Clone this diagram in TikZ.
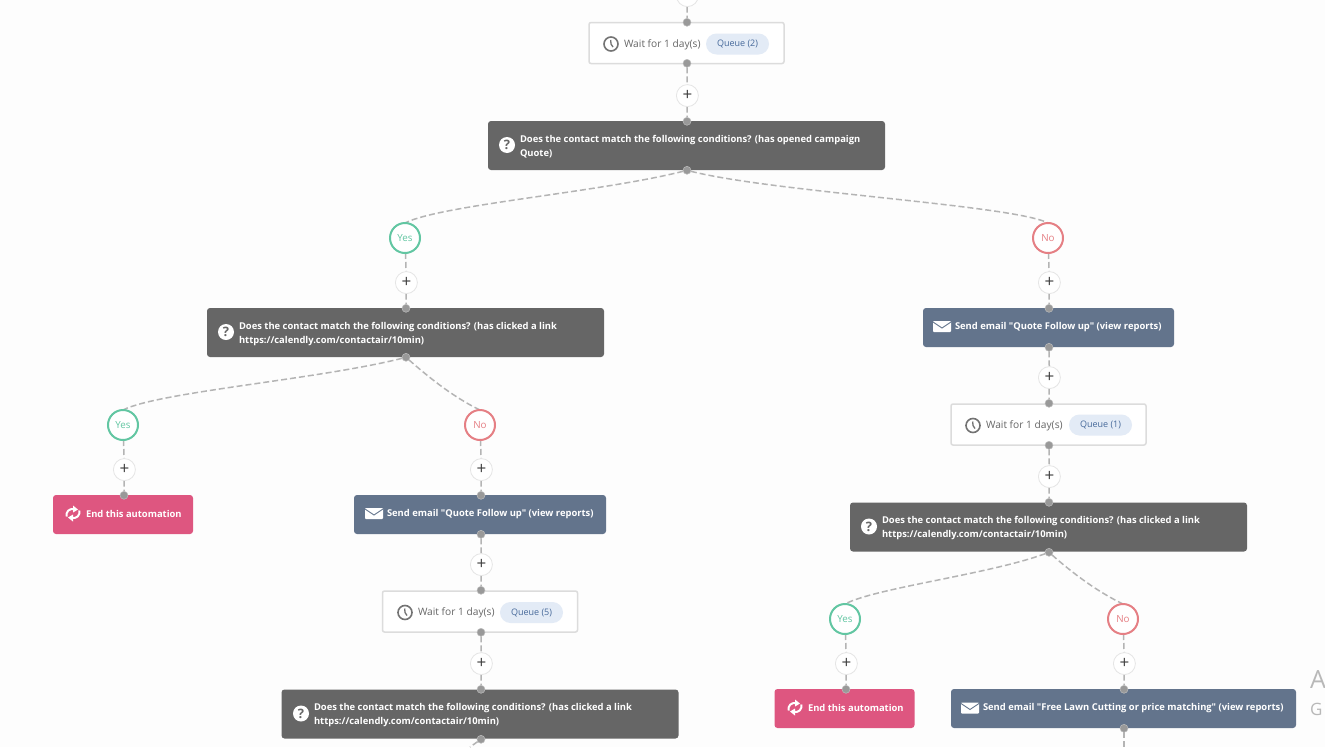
\documentclass[tikz,border=0pt]{standalone}
\usepackage{fontspec}
\newfontfamily\plainsans{Open Sans}
\AtBeginDocument{\plainsans}
\usetikzlibrary{backgrounds}
\definecolor{pagebg}{HTML}{FDFDFD}
\definecolor{darkbox}{HTML}{666666}
\definecolor{bluebox}{HTML}{63748C}
\definecolor{pinkbox}{HTML}{DE5680}
\definecolor{waitline}{HTML}{DCDCDC}
\definecolor{pill}{HTML}{E3EBF6}
\definecolor{pilltext}{HTML}{46699A}
\definecolor{greentone}{HTML}{62C6A2}
\definecolor{redtone}{HTML}{E57F84}
\definecolor{dashgrey}{HTML}{B4B4B4}
\definecolor{dotgrey}{HTML}{999999}
\newcommand{\nudge}[1]{\raisebox{-.8pt}{#1}}
\tikzset{
  x=1pt,y=-1pt,
  every node/.style={inner sep=0pt,outer sep=0pt},
  link/.style={draw=dashgrey,line width=1.5pt,dash pattern=on 6pt off 3pt},
  dot/.style={circle,fill=dotgrey,draw=dotgrey!65,line width=.5pt,minimum size=8pt,yshift=-.3pt},
  plusnode/.style={circle,fill=white,draw=black!10,line width=.8pt,minimum size=22pt,font=\fontsize{17}{17}\selectfont,text=black!75,xshift=.4pt,yshift=-.6pt},
  darknode/.style={fill=darkbox,rounded corners=3pt,minimum width=397pt,minimum height=49pt},
  bluenode/.style={fill=bluebox,rounded corners=3pt,minimum height=39pt},
  pinknode/.style={fill=pinkbox,rounded corners=3pt,minimum width=140pt,minimum height=39pt},
  waitnode/.style={fill=white,draw=waitline,line width=1.5pt,rounded corners=2pt,minimum width=195pt,minimum height=41pt},
  pillnode/.style={fill=pill,rounded corners=10.5pt,minimum width=63pt,minimum height=21pt,font=\fontsize{9}{9}\selectfont,text=pilltext},
  waittext/.style={anchor=west,font=\fontsize{10.2}{10.2}\selectfont,text=black!60,yshift=-.5pt},
  boxtext/.style={anchor=west,align=left,text=white,font=\fontsize{9.4}{14}\selectfont\bfseries,yshift=-.6pt},
  yesnode/.style={circle,fill=white,draw=greentone,line width=2pt,minimum size=30pt,text=greentone,font=\fontsize{9.8}{9.8}\selectfont},
  nonode/.style={circle,fill=white,draw=redtone,line width=2pt,minimum size=30pt,text=redtone,font=\fontsize{9.8}{9.8}\selectfont},
  clockico/.pic={
    \draw[black!55,line width=1.6pt] (0,0) circle (7);
    \draw[black!55,line width=1.3pt] (-.3,-4) -- (0,0) -- (2,3);
  },
  mailico/.pic={
    \fill[white,rounded corners=.8pt] (-9,-5.5) rectangle (9,5.5);
    \draw[bluebox,line width=.9pt] (-9,-4.5) -- (0,1.5) -- (9,-4.5);
  },
  syncico/.pic={
    \draw[white,line width=2pt] (-6.5,3) .. controls (-7,-2) and (-4,-5) .. (1,-4.5);
    \draw[white,line width=2pt] (6.5,-3) .. controls (7,2) and (4,5) .. (-1,4.5);
    \fill[white] (0,-8) -- (5,-4) -- (0,-1) -- cycle;
    \fill[white] (0,8) -- (-5,4) -- (0,1) -- cycle;
  },
}
\newcommand{\qmark}[2]{\node[circle,fill=white,minimum size=16pt,text=darkbox,font=\fontsize{13}{13}\selectfont\bfseries] at (#1,#2) {?};}
\begin{document}
\begin{tikzpicture}
\useasboundingbox (0,0) rectangle (1325,747);

% top branch
\node[plusnode] (p0) at (687,-5) {};
\node[waitnode] (w1) at (686.5,43) {};
\node[dot] (d1) at (687,22) {};
\node[dot] (d2) at (687,63) {};
\pic at (611,44) {clockico};
\node[waittext] (t1) at (624,44) {Wait for 1 day(s)};
\node[pillnode] (q1) at (737.5,44) {\nudge{Queue (2)}};
\node[plusnode] (p1) at (687,95) {+};
\node[darknode] (c1) at (686.5,145.5) {};
\node[dot] (d3) at (687,121) {};
\node[dot] (d4) at (687,170) {};
\qmark{507}{145}
\node[boxtext] (t2) at (520,146) {Does the contact match the following conditions? (has opened campaign\\Quote)};

% left branch
\node[yesnode] (y1) at (405,238) {\nudge{Yes}};
\node[plusnode] (p2) at (406,282) {+};
\node[darknode] (c2) at (405.5,332.5) {};
\node[dot] (d5) at (406,308) {};
\node[dot] (d6) at (406,357) {};
\qmark{226}{332}
\node[boxtext] (t3) at (239,333) {Does the contact match the following conditions? (has clicked a link\\https://calendly.com/contactair/10min)};

\node[yesnode] (y2) at (123,425) {\nudge{Yes}};
\node[plusnode] (p3) at (124,469) {+};
\node[pinknode] (e1) at (123,514.5) {};
\node[dot] (d7) at (124,495) {};
\pic at (73,513.5) {syncico};
\node[boxtext] (t4) at (86,513.2) {End this automation};

\node[nonode] (n2) at (480,425) {\nudge{No}};
\node[plusnode] (p4) at (481,469) {+};
\node[bluenode,minimum width=252pt] (b1) at (480,514.5) {};
\node[dot] (d8) at (481,495) {};
\node[dot] (d9) at (481,534) {};
\pic at (374,513.5) {mailico};
\node[boxtext] (t5) at (387,513.5) {Send email "Quote Follow up" (view reports)};
\node[plusnode] (p5) at (481,564) {+};
\node[waitnode] (w2) at (480,611.5) {};
\node[dot] (d10) at (481,590) {};
\node[dot] (d11) at (481,632) {};
\pic at (405,612.5) {clockico};
\node[waittext] (t6) at (418,612.5) {Wait for 1 day(s)};
\node[pillnode] (q2) at (531.5,612.5) {\nudge{Queue (5)}};
\node[plusnode] (p6) at (481,663) {+};
\node[darknode] (c3) at (480,714) {};
\node[dot] (d12) at (481,689) {};
\node[dot] (d13) at (481,739) {};
\qmark{301}{713.5}
\node[boxtext] (t7) at (314,714.5) {Does the contact match the following conditions? (has clicked a link\\https://calendly.com/contactair/10min)};
\coordinate (leftend) at (470,747);

% right branch
\node[nonode] (n1) at (1048,238) {\nudge{No}};
\node[plusnode] (p7) at (1049,282) {+};
\node[bluenode,minimum width=251pt] (b2) at (1048.5,327.5) {};
\node[dot] (d14) at (1049,308) {};
\node[dot] (d15) at (1049,347) {};
\pic at (942,326.5) {mailico};
\node[boxtext] (t8) at (955,326) {Send email "Quote Follow up" (view reports)};
\node[plusnode] (p8) at (1049,377) {+};
\node[waitnode] (w3) at (1048.5,424.5) {};
\node[dot] (d16) at (1049,403) {};
\node[dot] (d17) at (1049,445) {};
\pic at (973,425.5) {clockico};
\node[waittext] (t9) at (986,425) {Wait for 1 day(s)};
\node[pillnode] (q3) at (1100.5,425) {\nudge{Queue (1)}};
\node[plusnode] (p9) at (1049,476) {+};
\node[darknode] (c4) at (1048.5,527) {};
\node[dot] (d18) at (1049,502) {};
\node[dot] (d19) at (1049,552) {};
\qmark{869}{526.5}
\node[boxtext] (t10) at (882,527.5) {Does the contact match the following conditions? (has clicked a link\\https://calendly.com/contactair/10min)};

\node[yesnode] (y3) at (845,619) {\nudge{Yes}};
\node[plusnode] (p10) at (846,663) {+};
\node[pinknode] (e2) at (844.5,708.5) {};
\node[dot] (d20) at (846,689) {};
\pic at (795,707.5) {syncico};
\node[boxtext] (t11) at (808,707.2) {End this automation};

\node[nonode] (n3) at (1123,619) {\nudge{No}};
\node[plusnode] (p11) at (1124,663) {+};
\node[bluenode,minimum width=345pt] (b3) at (1123.5,708.5) {};
\node[dot] (d21) at (1124,689) {};
\node[dot] (d22) at (1124,728) {};
\pic at (970,708) {mailico};
\node[boxtext] (t12) at (983,707.5) {Send email "Free Lawn Cutting or price matching" (view reports)};
\coordinate (rightend) at (1124,747);

% cut-off text at the right edge
\node[anchor=west,text=black!28,font=\fontsize{25}{25}\selectfont] (a1) at (1310,680) {A};
\node[anchor=west,text=black!28,font=\fontsize{17}{17}\selectfont] (g1) at (1310,709) {G};

\begin{pgfonlayer}{background}
\fill[pagebg] (0,0) rectangle (1325,747);
\draw[link] (p0) -- (d1);
\draw[link] (d2) -- (p1);
\draw[link] (p1) -- (d3);
\draw[link] (d4) .. controls +(-87,22) and +(35,-18) .. (y1.north);
\draw[link] (d4) .. controls +(87,22) and +(-35,-18) .. (n1.north);
\draw[link] (y1) -- (p2);
\draw[link] (p2) -- (d5);
\draw[link] (d6) .. controls +(-87,22) and +(35,-18) .. (y2.north);
\draw[link] (d6) .. controls +(25,22) and +(-25,-12) .. (n2.north);
\draw[link] (y2) -- (p3);
\draw[link] (p3) -- (d7);
\draw[link] (n2) -- (p4);
\draw[link] (p4) -- (d8);
\draw[link] (d9) -- (p5);
\draw[link] (p5) -- (d10);
\draw[link] (d11) -- (p6);
\draw[link] (p6) -- (d12);
\draw[link] (d13) -- (leftend);
\draw[link] (n1) -- (p7);
\draw[link] (p7) -- (d14);
\draw[link] (d15) -- (p8);
\draw[link] (p8) -- (d16);
\draw[link] (d17) -- (p9);
\draw[link] (p9) -- (d18);
\draw[link] (d19) .. controls +(-60,22) and +(30,-16) .. (y3.north);
\draw[link] (d19) .. controls +(25,22) and +(-25,-12) .. (n3.north);
\draw[link] (y3) -- (p10);
\draw[link] (p10) -- (d20);
\draw[link] (n3) -- (p11);
\draw[link] (p11) -- (d21);
\draw[link] (d22) -- (rightend);
\end{pgfonlayer}
\end{tikzpicture}
\end{document}
